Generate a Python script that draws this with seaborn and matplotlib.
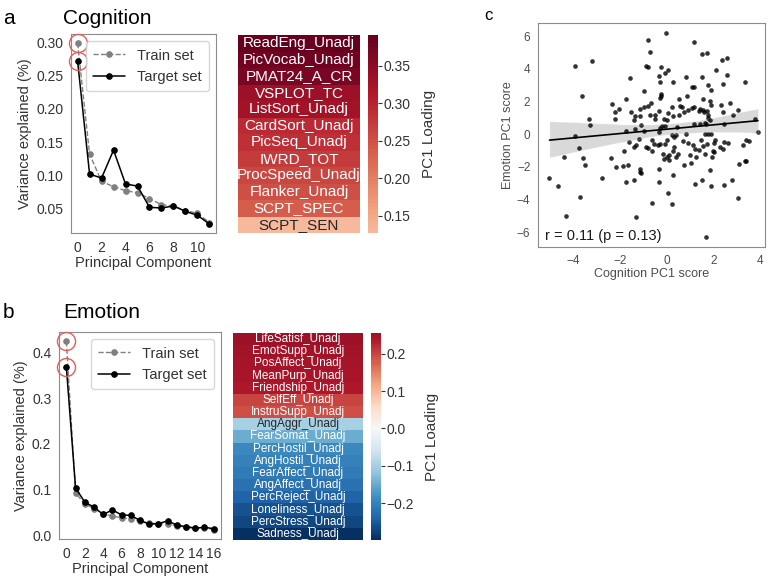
import numpy as np
import pandas as pd
import matplotlib
matplotlib.use("Agg")
import matplotlib.pyplot as plt
import seaborn as sns

# ---- data ----
cog_pc = list(range(12))
cog_train = [0.299, 0.132, 0.091, 0.083, 0.077, 0.074, 0.065, 0.056, 0.054, 0.047, 0.043, 0.029]
cog_target = [0.272, 0.102, 0.096, 0.138, 0.087, 0.084, 0.052, 0.051, 0.054, 0.046, 0.040, 0.027]

emo_pc = list(range(17))
emo_train = [0.424, 0.093, 0.069, 0.059, 0.048, 0.042, 0.039, 0.036, 0.031, 0.027, 0.026,
             0.025, 0.021, 0.019, 0.017, 0.017, 0.013]
emo_target = [0.368, 0.104, 0.073, 0.062, 0.046, 0.056, 0.045, 0.044, 0.033, 0.025, 0.026,
              0.032, 0.023, 0.019, 0.016, 0.018, 0.015]

cog_names = ["ReadEng_Unadj", "PicVocab_Unadj", "PMAT24_A_CR", "VSPLOT_TC", "ListSort_Unadj",
             "CardSort_Unadj", "PicSeq_Unadj", "IWRD_TOT", "ProcSpeed_Unadj", "Flanker_Unadj",
             "SCPT_SPEC", "SCPT_SEN"]
cog_loading = [0.391, 0.380, 0.372, 0.335, 0.328, 0.292, 0.285, 0.272, 0.262, 0.252, 0.238, 0.127]

emo_names = ["LifeSatisf_Unadj", "EmotSupp_Unadj", "PosAffect_Unadj", "MeanPurp_Unadj",
             "Friendship_Unadj", "SelfEff_Unadj", "InstruSupp_Unadj", "AngAggr_Unadj",
             "FearSomat_Unadj", "PercHostil_Unadj", "AngHostil_Unadj", "FearAffect_Unadj",
             "AngAffect_Unadj", "PercReject_Unadj", "Loneliness_Unadj", "PercStress_Unadj",
             "Sadness_Unadj"]
emo_loading = [0.255, 0.250, 0.248, 0.245, 0.242, 0.200, 0.192, -0.098, -0.148, -0.190, -0.200,
               -0.210, -0.222, -0.240, -0.258, -0.272, -0.298]

cog_score = [-0.04, -0.78, 1.16, -0.73, 1.72, 1.51, -3.90, -3.20, 2.36, 2.59, -0.89, -0.79, -0.25,
             0.04, -0.06, 2.12, 2.56, -1.57, 0.81, 1.50, -0.31, 3.33, 0.25, -0.28, 2.40, 1.75,
             1.07, 1.17, -0.95, 1.89, -3.64, -0.25, -0.23, -0.27, 0.86, -1.75, 1.55, 0.51, 1.84,
             2.70, -2.33, 2.32, -0.68, -0.96, -0.79, -1.16, 0.24, 0.58, 0.66, 1.07, 1.16, 1.88,
             -2.05, -2.19, -1.51, 0.92, 1.42, 1.57, 3.05, -0.35, 0.73, 0.07, 1.39, 1.59, 1.74,
             0.54, 0.27, 2.39, -1.34, -0.72, -0.51, -2.22, -1.41, -1.13, 2.82, -3.33, -0.48,
             -0.11, 0.00, 1.77, 1.78, 1.84, 3.76, -3.26, -1.09, 2.43, 1.69, 1.44, 1.16, 1.64,
             0.44, -0.06, -0.30, -0.20, -1.37, -1.74, -0.95, -0.35, 3.90, -3.91, 0.24, 0.38,
             1.64, 1.77, 1.91, 0.82, 0.30, 0.03, -1.20, -1.62, -0.65, 1.45, 2.08, 2.01, 2.44,
             2.63, 3.53, 3.39, 3.25, 0.71, 0.93, 1.13, 1.74, -1.31, -1.38, -0.88, -0.78, -0.54,
             -0.38, -0.28, -0.08, 0.32, 1.55, 2.29, 2.39, -3.76, 0.25, 0.49, -0.65, -1.84, 1.39,
             1.96, 2.02, 1.93, 1.19, -0.16, 0.03, 0.11, 0.38, 0.98, 1.27, 1.65, -0.11, 0.11,
             -3.59, -4.38, -2.40, -3.49, -1.88, -1.67, -2.18, 0.72, 1.05, 3.11, 3.36, 3.39,
             -1.13, -1.16, -1.10, -0.31, 0.28, 1.85, -2.78, -5.01, -4.63, -1.75, -1.41, -0.31,
             1.50, 1.21, 1.91, 2.46, 2.78, 0.06, -3.71, 3.05, -0.64, 0.24, -4.31, -1.31, 1.69]
emo_score = [6.18, 5.73, 5.61, 5.04, 4.98, 4.90, 4.20, 4.47, 4.55, 4.67, 4.18, 4.08, 4.08, 3.94,
             3.73, 3.92, 3.63, 3.45, 3.47, 3.49, 3.57, 3.18, 3.18, 3.22, 3.08, 3.02, 2.86, 2.86,
             2.67, 2.71, 2.33, 2.45, 2.31, 2.20, 2.35, 2.14, 2.16, 2.18, 2.06, 1.92, 1.82, 1.80,
             1.88, 1.65, 1.73, 1.55, 1.65, 1.73, 1.69, 1.63, 1.69, 1.78, 1.55, 1.35, 1.35, 1.49,
             1.57, 1.49, 1.49, 1.39, 1.35, 1.29, 1.39, 1.35, 1.43, 1.18, 1.14, 1.33, 1.14, 1.18,
             1.18, 0.94, 0.88, 1.14, 1.18, 0.94, 0.94, 0.94, 0.88, 1.18, 0.98, 0.88, 0.92, 0.59,
             0.59, 0.61, 0.61, 0.61, 0.61, 0.67, 0.45, 0.47, 0.37, 0.47, 0.33, 0.20, 0.22, 0.16,
             0.16, -0.10, -0.08, -0.08, 0.02, 0.02, 0.02, 0.02, -0.18, -0.35, -0.31, -0.45,
             -0.35, -0.35, -0.35, -0.55, -0.45, -0.55, -0.43, -0.35, -0.65, -0.43, -0.55, -0.69,
             -0.59, -0.69, -0.76, -0.76, -0.86, -0.59, -0.69, -0.59, -0.59, -0.76, -0.71, -0.76,
             -0.92, -0.82, -1.00, -1.20, -1.02, -1.00, -0.96, -1.00, -1.12, -1.37, -0.90, -1.24,
             -1.41, -1.27, -1.41, -1.27, -1.37, -1.20, -1.51, -1.57, -1.43, -1.37, -1.43, -1.88,
             -1.92, -1.86, -2.02, -1.88, -1.78, -1.82, -1.65, -1.67, -2.14, -2.31, -2.39, -2.14,
             -2.47, -2.18, -2.65, -2.67, -3.14, -2.94, -2.80, -2.90, -2.82, -3.04, -3.18, -3.08,
             -2.80, -3.61, -3.82, -3.90, -4.22, -4.29, -5.00, -5.06, -6.31]

W, H = 772, 579


def rect(l, t, r, b):
    return [l / W, 1 - b / H, (r - l) / W, (b - t) / H]


sns.set_style("white")
plt.rcParams["font.family"] = ["Liberation Sans", "DejaVu Sans"]
plt.rcParams["axes.edgecolor"] = "0.55"
plt.rcParams["text.color"] = "0.1"

fig = plt.figure(figsize=(W / 100, H / 100), dpi=100)


def pc_panel(ax, pcs, train, target, ticks, yticks, yfmt):
    sns.lineplot(x=pcs, y=train, ax=ax, color="gray", linestyle="--", lw=1.0,
                 marker="o", markersize=4, markeredgecolor="gray", label="Train set")
    sns.lineplot(x=pcs, y=target, ax=ax, color="black", lw=1.1,
                 marker="o", markersize=4, markeredgecolor="black", label="Target set")
    ax.plot([pcs[0], pcs[0]], [train[0], target[0]], ls="none", marker="o", ms=13,
            mfc="none", mec="#e35d5d", mew=1.0, clip_on=False, zorder=5)
    ax.set_xticks(ticks)
    ax.set_yticks(yticks)
    ax.set_yticklabels([yfmt.format(v) for v in yticks])
    ax.tick_params(labelsize=10, colors="0.2", pad=2)
    ax.set_xlabel("Principal Component", fontsize=10.5, labelpad=1, color="0.2")
    ax.set_ylabel("Variance explained (%)", fontsize=10.5, labelpad=3, color="0.2")
    leg = ax.legend(loc="upper right", fontsize=10.5, handlelength=2.2, borderpad=0.5,
                    labelspacing=0.5)
    for t in leg.get_texts():
        t.set_color("0.2")


def heat_panel(ax, cax, names, vals, fs, cticks, cfmt):
    df = pd.DataFrame({"PC1": vals}, index=names)
    sns.heatmap(df, ax=ax, cbar_ax=cax, cmap="RdBu_r", center=0,
                annot=np.array(names).reshape(-1, 1), fmt="", annot_kws={"fontsize": fs},
                xticklabels=False, yticklabels=False)
    cax.set_yticks(cticks)
    cax.set_yticklabels([cfmt(v) for v in cticks])
    cax.tick_params(right=True, length=3, width=0.8, labelsize=10, colors="0.2", pad=1)
    cax.set_ylabel("PC1 Loading", fontsize=11, labelpad=8, color="0.2")


# panel a
ax_a = fig.add_axes(rect(71, 34, 216, 233))
pc_panel(ax_a, cog_pc, cog_train, cog_target, [0, 2, 4, 6, 8, 10],
         [0.05, 0.10, 0.15, 0.20, 0.25, 0.30], "{:.2f}")
hm_a = fig.add_axes(rect(238, 35, 360, 233))
cb_a = fig.add_axes(rect(368, 35, 378, 233))
heat_panel(hm_a, cb_a, cog_names, cog_loading, 11, [0.15, 0.20, 0.25, 0.30, 0.35],
           lambda v: f"{v:.2f}")

# panel b
ax_b = fig.add_axes(rect(59, 332, 221, 539))
pc_panel(ax_b, emo_pc, emo_train, emo_target, list(range(0, 17, 2)),
         [0.0, 0.1, 0.2, 0.3, 0.4], "{:.1f}")
hm_b = fig.add_axes(rect(233, 333, 363, 540))
cb_b = fig.add_axes(rect(371, 333, 381, 540))
heat_panel(hm_b, cb_b, emo_names, emo_loading, 8.5, [-0.2, -0.1, 0.0, 0.1, 0.2],
           lambda v: f"{v:.1f}".replace("-", "\u2212"))

# panel c
ax_c = fig.add_axes(rect(538, 23, 765, 247))
sns.regplot(x=cog_score, y=emo_score, ax=ax_c, seed=1,
            scatter_kws={"s": 11, "color": "black", "linewidths": 0},
            line_kws={"color": "black", "lw": 1.2})
ax_c.set_xlim(-5.5, 4.2)
ax_c.set_ylim(-6.9, 6.8)
ax_c.set_xticks([-4, -2, 0, 2, 4])
ax_c.set_yticks([-6, -4, -2, 0, 2, 4, 6])
ax_c.set_xticklabels(["\u22124", "\u22122", "0", "2", "4"])
ax_c.set_yticklabels(["\u22126", "\u22124", "\u22122", "0", "2", "4", "6"])
ax_c.tick_params(labelsize=8.5, colors="0.3", pad=2)
ax_c.set_xlabel("Cognition PC1 score", fontsize=9, color="0.3", labelpad=1)
ax_c.set_ylabel("Emotion PC1 score", fontsize=9, color="0.3", labelpad=2)
ax_c.text(0.03, 0.02, "r = 0.11 (p = 0.13)", transform=ax_c.transAxes, fontsize=10.5,
          color="0.1", va="bottom", ha="left")

# panel letters and titles
fig.text(3 / W, 1 - 24 / H, "a", fontsize=15, color="black")
fig.text(63 / W, 1 - 24 / H, "Cognition", fontsize=15, color="black")
fig.text(3 / W, 1 - 318 / H, "b", fontsize=15, color="black")
fig.text(63 / W, 1 - 318 / H, "Emotion", fontsize=15, color="black")
fig.text(484 / W, 1 - 20 / H, "c", fontsize=12, color="black")

fig.savefig("out.png", dpi=100)
